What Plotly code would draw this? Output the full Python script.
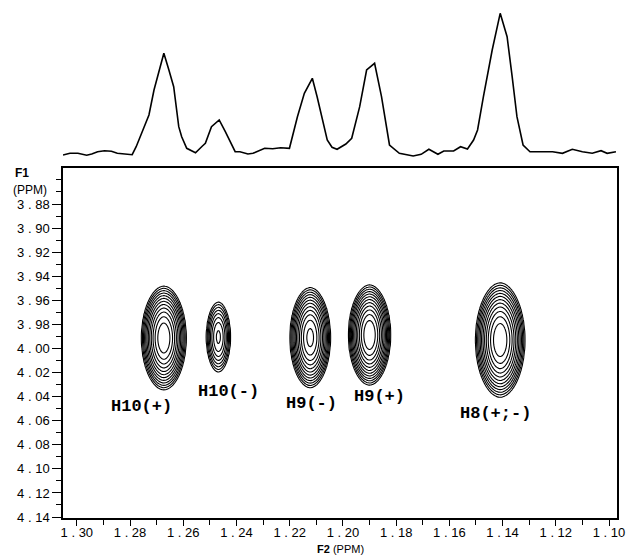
import numpy as np
import plotly.graph_objects as go

# ---- 1D projection spectrum (F2 ppm, intensity in arbitrary units) ----
spec_ppm = [1.3052, 1.3026, 1.2996, 1.2963, 1.2944, 1.2922, 1.2896, 1.2870, 1.2848, 1.2814,
            1.2792, 1.2777, 1.2755, 1.2729, 1.2710, 1.2691, 1.2673, 1.2654, 1.2636, 1.2617,
            1.2606, 1.2587, 1.2554, 1.2528, 1.2517, 1.2494, 1.2465, 1.2442, 1.2405, 1.2387,
            1.2357, 1.2338, 1.2294, 1.2264, 1.2234, 1.2201, 1.2171, 1.2145, 1.2115, 1.2097,
            1.2078, 1.2059, 1.2041, 1.2022, 1.1989, 1.1967, 1.1937, 1.1911, 1.1881, 1.1855,
            1.1825, 1.1788, 1.1736, 1.1706, 1.1677, 1.1643, 1.1621, 1.1584, 1.1558, 1.1532,
            1.1509, 1.1494, 1.1472, 1.1439, 1.1409, 1.1383, 1.1364, 1.1346, 1.1323, 1.1297,
            1.1253, 1.1212, 1.1175, 1.1138, 1.1100, 1.1063, 1.1030, 1.1007, 1.0974]
spec_int = [0, 1.7, 1.7, -0.3, 1, 3.3, 4.3, 3.7, 1.7, 1.3,
            0.3, 8.3, 23.3, 40, 65, 83.3, 101.7, 85, 68.3, 28.3,
            18.3, 6.7, 2.3, 9, 11.7, 28.3, 35, 23.3, 3.3, 3.3,
            1, 1.7, 6.7, 6.3, 7.3, 6.7, 38.3, 61.7, 76.7, 58.3,
            35, 15, 7.7, 5.7, 11, 16.7, 48.3, 85, 91.7, 58.3,
            10, 1.7, -1, 0.7, 5.7, 0.7, 4, 4, 8.3, 6,
            15, 25, 58.3, 105, 141.7, 118.3, 78.3, 38.3, 10, 3.3,
            3.3, 3.3, 1.7, 5.7, 3.3, 1.7, 4.3, 1.7, 3.3]

# ---- 2D cross peaks (centre F2, centre F1, outer half-widths, relative height) ----
peak_names = ["H10(+)", "H10(-)", "H9(-)", "H9(+)", "H8(+;-)"]
peak_f2 = [1.2673, 1.2468, 1.2123, 1.1900, 1.1409]
peak_f1 = [3.9913, 3.9905, 3.9910, 3.9888, 3.9930]
peak_hw_f2 = [0.0086, 0.0047, 0.0078, 0.0081, 0.0095]
peak_hw_f1 = [0.0440, 0.0300, 0.0425, 0.0425, 0.0485]
peak_amp = [1.0, 0.62, 0.95, 1.0, 1.0]

# label positions
label_f2 = [1.2758, 1.2431, 1.2119, 1.1862, 1.1428]
label_f1 = [4.0486, 4.0361, 4.0461, 4.0395, 4.0536]

# axis ticks
x_major = [1.30, 1.28, 1.26, 1.24, 1.22, 1.20, 1.18, 1.16, 1.14, 1.12, 1.10]
x_minor = [1.29, 1.27, 1.25, 1.23, 1.21, 1.19, 1.17, 1.15, 1.13, 1.11]
y_major = [3.88, 3.90, 3.92, 3.94, 3.96, 3.98, 4.00, 4.02, 4.04, 4.06, 4.08, 4.10, 4.12, 4.14]
y_minor = [3.86, 3.87, 3.89, 3.91, 3.93, 3.95, 3.97, 3.99, 4.01, 4.03, 4.05, 4.07, 4.09, 4.11, 4.13]

X_RANGE = [1.3052, 1.0970]
Y_RANGE = [4.1408, 3.8501]

gx = np.linspace(1.31, 1.09, 480)
gy = np.linspace(3.84, 4.15, 420)
GX, GY = np.meshgrid(gx, gy)
Z = np.zeros_like(GX)
for cx, cy, sx, sy, a in zip(peak_f2, peak_f1, peak_hw_f2, peak_hw_f1, peak_amp):
    r = np.sqrt(np.abs((GX - cx) / sx) ** 1.9 + ((GY - cy) / sy) ** 2)
    Z = np.maximum(Z, a * np.clip(1 - r ** 2, 0, None))

fig = go.Figure()
fig.add_trace(go.Contour(
    x=gx, y=gy, z=Z, xaxis="x", yaxis="y",
    contours=dict(coloring="lines", start=0.04, end=0.95, size=0.08),
    colorscale=[[0, "black"], [1, "black"]],
    line=dict(width=1.1, color="black"), showscale=False, hoverinfo="skip",
))
fig.add_trace(go.Scatter(
    x=spec_ppm, y=spec_int, xaxis="x", yaxis="y2", mode="lines",
    line=dict(color="black", width=1.6), hoverinfo="skip", showlegend=False,
))

tick_font = dict(family="Liberation Sans, Arial", size=13, color="black")

fig.update_layout(
    width=633, height=556,
    margin=dict(l=63, r=10, t=8, b=38),
    paper_bgcolor="white", plot_bgcolor="white",
    showlegend=False,
    xaxis=dict(
        range=X_RANGE, anchor="y", showgrid=False, zeroline=False,
        showline=True, mirror=True, linecolor="black", linewidth=1.5,
        ticks="outside", ticklen=6, tickwidth=1.2, tickcolor="black",
        tickmode="array", tickvals=x_major,
        ticktext=[f"{v:.2f}".replace(".", " . ") for v in x_major],
        tickfont=tick_font, ticklabelstandoff=-4,
        minor=dict(tickmode="array", tickvals=x_minor, ticks="outside",
                   ticklen=5, tickwidth=1.2, tickcolor="black"),
    ),
    yaxis=dict(
        range=Y_RANGE, domain=[0, 0.68627], showgrid=False, zeroline=False,
        showline=True, mirror=True, linecolor="black", linewidth=1.5,
        ticks="outside", ticklen=9, tickwidth=1.2, tickcolor="black",
        tickmode="array", tickvals=y_major,
        ticktext=[f"{v:.2f}".replace(".", " . ") for v in y_major],
        tickfont=tick_font,
        minor=dict(tickmode="array", tickvals=y_minor, ticks="outside",
                   ticklen=5, tickwidth=1.2, tickcolor="black"),
    ),
    yaxis2=dict(domain=[0.70196, 1], range=[-5, 147], visible=False, anchor="x"),
)

for name, lx, ly in zip(peak_names, label_f2, label_f1):
    fig.add_annotation(x=lx, y=ly, xref="x", yref="y", text=f"<b>{name}</b>",
                       showarrow=False,
                       font=dict(family="Liberation Mono, Courier New", size=17, color="black"))

fig.add_annotation(x=-0.091, y=0.676, xref="paper", yref="paper", xanchor="left",
                   yanchor="middle", text="<b>F1</b>", showarrow=False,
                   font=dict(family="Liberation Sans, Arial", size=12, color="black"))
fig.add_annotation(x=-0.093, y=0.643, xref="paper", yref="paper", xanchor="left",
                   yanchor="middle", text="(PPM)", showarrow=False,
                   font=dict(family="Liberation Sans, Arial", size=12, color="black"))
fig.add_annotation(x=0.5, y=-0.0608, xref="paper", yref="paper",
                   xanchor="center", yanchor="middle",
                   text="<b>F2</b> (PPM)", showarrow=False,
                   font=dict(family="Liberation Sans, Arial", size=11, color="black"))

fig.write_html("out.html")
